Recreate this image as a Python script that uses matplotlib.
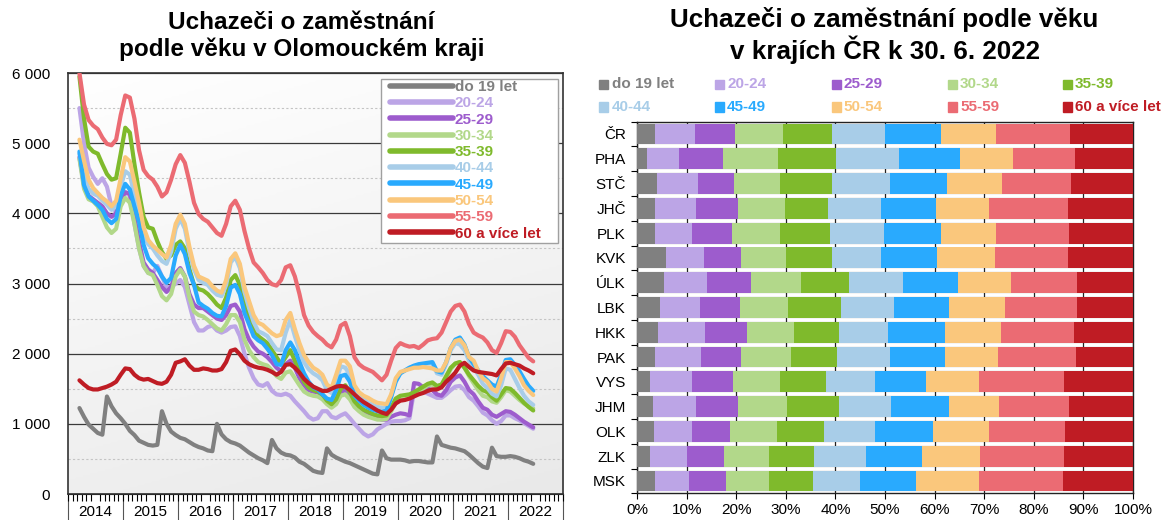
import numpy as np
import pandas as pd
import matplotlib.pyplot as plt
from matplotlib.ticker import FuncFormatter, MultipleLocator, FixedLocator
from matplotlib.patches import Rectangle
from matplotlib.colors import LinearSegmentedColormap

plt.rcParams['font.family'] = ['Liberation Sans', 'DejaVu Sans']

# měsíce: březen 2014 - červen 2022
months = pd.date_range('2014-03-01', '2022-06-01', freq='MS')

do19 = [1225, 1100, 990, 930, 870, 845, 1390, 1250, 1150, 1080,
        1000, 900, 840, 760, 730, 700, 690, 700, 1180, 1000, 890, 840,
        800, 780, 740, 700, 670, 650, 620, 610, 1000, 850, 780, 740,
        720, 690, 640, 590, 550, 510, 480, 440, 770, 650, 590, 560,
        550, 520, 460, 430, 380, 330, 310, 300, 650, 560, 520, 490,
        460, 440, 410, 380, 350, 320, 290, 280, 620, 510, 490, 490,
        490, 480, 460, 470, 470, 460, 450, 450, 820, 700, 680, 660,
        650, 630, 610, 560, 500, 440, 390, 370, 660, 540, 530, 530,
        540, 530, 510, 480, 460, 430]
a20 = [5500, 5000, 4650, 4520, 4420, 4500, 4380, 4100, 4020, 4200,
       4300, 4250, 3850, 3500, 3250, 3150, 3150, 3250, 3100, 2950, 2950, 3000,
       3050, 2950, 2700, 2450, 2330, 2330, 2380, 2400, 2330, 2300, 2330, 2380,
       2390, 2250, 2000, 1800, 1650, 1560, 1540, 1580, 1470, 1420, 1410, 1430,
       1400, 1320, 1250, 1180, 1100, 1060, 1080, 1180, 1180, 1100, 1080, 1120,
       1150, 1080, 1000, 930, 860, 820, 850, 920, 960, 1000, 1030, 1040,
       1040, 1050, 1080, 1470, 1470, 1460, 1430, 1400, 1370, 1370, 1420, 1480,
       1530, 1540, 1480, 1380, 1330, 1250, 1160, 1120, 1050, 1000, 1040, 1120,
       1120, 1080, 1050, 1010, 970, 930]
a25 = [4800, 4400, 4250, 4200, 4150, 4100, 4000, 3950, 4000, 4200,
       4300, 4280, 3950, 3600, 3300, 3200, 3150, 3050, 2950, 2880, 2950, 3150,
       3220, 3100, 2850, 2700, 2650, 2650, 2600, 2550, 2500, 2480, 2550, 2680,
       2700, 2600, 2350, 2200, 2100, 2030, 2000, 1950, 1880, 1800, 1750, 1850,
       1900, 1800, 1650, 1550, 1480, 1460, 1450, 1400, 1300, 1250, 1300, 1450,
       1480, 1400, 1270, 1200, 1150, 1130, 1100, 1080, 1060, 1060, 1100, 1130,
       1150, 1140, 1120, 1580, 1570, 1520, 1500, 1480, 1420, 1400, 1480, 1600,
       1660, 1690, 1600, 1480, 1420, 1320, 1230, 1200, 1130, 1100, 1140, 1180,
       1170, 1130, 1080, 1030, 990, 950]
a30 = [4780, 4350, 4200, 4170, 4100, 3950, 3800, 3720, 3780, 4100,
       4220, 4150, 3850, 3500, 3250, 3150, 3120, 2980, 2820, 2760, 2850, 3100,
       3200, 3100, 2800, 2600, 2550, 2530, 2480, 2420, 2360, 2330, 2420, 2550,
       2550, 2450, 2200, 2050, 1950, 1880, 1850, 1830, 1760, 1680, 1640, 1730,
       1750, 1650, 1550, 1460, 1420, 1400, 1390, 1350, 1280, 1230, 1280, 1400,
       1420, 1350, 1240, 1180, 1130, 1100, 1080, 1060, 1060, 1070, 1180, 1300,
       1340, 1350, 1380, 1420, 1450, 1500, 1550, 1560, 1520, 1540, 1650, 1780,
       1860, 1880, 1800, 1680, 1580, 1480, 1400, 1380, 1320, 1300, 1380, 1480,
       1460, 1400, 1340, 1290, 1250, 1220]
a35 = [5950, 5350, 4950, 4880, 4850, 4700, 4560, 4480, 4500, 4850,
       5220, 5150, 4700, 4300, 3950, 3800, 3780, 3600, 3450, 3350, 3400, 3550,
       3600, 3500, 3200, 2980, 2920, 2900, 2850, 2780, 2700, 2650, 2800, 3050,
       3120, 2980, 2700, 2500, 2350, 2250, 2200, 2150, 2050, 1950, 1850, 1950,
       2050, 1900, 1750, 1600, 1520, 1480, 1460, 1420, 1330, 1280, 1350, 1500,
       1550, 1450, 1320, 1250, 1200, 1170, 1140, 1120, 1110, 1120, 1230, 1360,
       1400, 1410, 1420, 1450, 1490, 1530, 1570, 1590, 1540, 1560, 1680, 1800,
       1860, 1880, 1800, 1700, 1620, 1540, 1480, 1450, 1380, 1330, 1420, 1510,
       1500, 1440, 1370, 1300, 1240, 1190]
a40 = [4850, 4550, 4350, 4280, 4250, 4180, 4120, 4050, 4100, 4380,
       4600, 4550, 4250, 3950, 3700, 3560, 3500, 3400, 3320, 3280, 3450, 3780,
       3920, 3780, 3450, 3200, 3050, 3010, 2980, 2900, 2840, 2820, 2980, 3300,
       3380, 3220, 2880, 2650, 2450, 2320, 2290, 2250, 2150, 2060, 2050, 2300,
       2480, 2250, 2050, 1880, 1780, 1720, 1680, 1620, 1480, 1440, 1600, 1820,
       1800, 1700, 1470, 1400, 1350, 1300, 1270, 1240, 1230, 1220, 1400, 1620,
       1720, 1760, 1800, 1820, 1840, 1850, 1860, 1860, 1720, 1700, 1850, 2050,
       2150, 2130, 2050, 1900, 1800, 1700, 1570, 1510, 1430, 1390, 1550, 1790,
       1770, 1640, 1510, 1400, 1320, 1270]
a45 = [4880, 4400, 4240, 4180, 4120, 4050, 3920, 3860, 3920, 4250,
       4420, 4340, 4100, 3880, 3550, 3360, 3280, 3220, 3100, 3010, 3080, 3400,
       3550, 3420, 3150, 2980, 2730, 2680, 2640, 2580, 2540, 2530, 2680, 2940,
       2980, 2850, 2580, 2420, 2250, 2190, 2150, 2070, 1980, 1850, 1840, 2050,
       2160, 2050, 1880, 1720, 1600, 1520, 1490, 1420, 1360, 1340, 1480, 1680,
       1700, 1600, 1400, 1330, 1270, 1230, 1200, 1180, 1170, 1190, 1380, 1600,
       1720, 1760, 1800, 1830, 1850, 1860, 1870, 1880, 1750, 1730, 1880, 2080,
       2200, 2230, 2130, 1950, 1850, 1760, 1680, 1620, 1560, 1530, 1700, 1910,
       1920, 1840, 1750, 1640, 1540, 1470]
a50 = [5050, 4750, 4480, 4360, 4290, 4220, 4170, 4100, 4180, 4500,
       4800, 4740, 4450, 4150, 3800, 3620, 3540, 3480, 3420, 3370, 3550, 3850,
       3980, 3850, 3520, 3250, 3100, 3070, 3040, 2960, 2900, 2870, 3050, 3350,
       3430, 3280, 2950, 2750, 2550, 2440, 2410, 2350, 2290, 2250, 2270, 2480,
       2580, 2350, 2150, 1980, 1880, 1800, 1760, 1700, 1560, 1510, 1700, 1900,
       1900, 1820, 1550, 1450, 1400, 1370, 1330, 1300, 1290, 1280, 1420, 1650,
       1740, 1760, 1780, 1800, 1800, 1810, 1800, 1790, 1760, 1760, 1880, 2080,
       2180, 2200, 2120, 1950, 1900, 1750, 1650, 1600, 1500, 1460, 1650, 1880,
       1880, 1790, 1680, 1550, 1470, 1410]
a55 = [6000, 5550, 5330, 5250, 5200, 5080, 4990, 4970, 5050, 5400,
       5680, 5650, 5350, 4900, 4620, 4530, 4480, 4380, 4240, 4300, 4480, 4700,
       4830, 4720, 4450, 4150, 3990, 3920, 3880, 3800, 3720, 3680, 3850, 4100,
       4180, 4050, 3750, 3500, 3300, 3230, 3150, 3050, 2990, 2970, 3050, 3230,
       3260, 3100, 2850, 2550, 2400, 2310, 2250, 2200, 2130, 2090, 2200, 2400,
       2440, 2250, 1950, 1850, 1800, 1770, 1740, 1680, 1620, 1700, 1900, 2080,
       2150, 2120, 2100, 2110, 2080, 2130, 2190, 2210, 2220, 2300, 2450, 2600,
       2680, 2700, 2600, 2420, 2300, 2260, 2230, 2160, 2050, 2010, 2150, 2320,
       2310, 2240, 2120, 2030, 1940, 1890]
a60 = [1620, 1560, 1510, 1490, 1490, 1510, 1530, 1560, 1600, 1700,
       1790, 1780, 1700, 1650, 1630, 1640, 1610, 1580, 1570, 1600, 1700, 1870,
       1890, 1920, 1830, 1770, 1770, 1790, 1780, 1760, 1760, 1780, 1880, 2040,
       2060, 1990, 1900, 1850, 1820, 1800, 1790, 1770, 1740, 1700, 1740, 1840,
       1850, 1800, 1730, 1640, 1580, 1530, 1500, 1470, 1470, 1500, 1530, 1540,
       1530, 1480, 1420, 1360, 1310, 1270, 1230, 1190, 1160, 1140, 1200, 1290,
       1330, 1340, 1360, 1390, 1420, 1440, 1470, 1490, 1490, 1520, 1600, 1660,
       1730, 1830, 1870, 1810, 1760, 1740, 1730, 1720, 1710, 1690, 1780, 1860,
       1870, 1850, 1830, 1790, 1760, 1720]

ages = ['do 19 let', '20-24', '25-29', '30-34', '35-39',
        '40-44', '45-49', '50-54', '55-59', '60 a více let']
colors = ['#808080', '#bca5e6', '#9d5ccd', '#b2d88a', '#7fba2c',
          '#a8cde8', '#29aafe', '#fac77c', '#eb6b73', '#bf1c24']
series = [do19, a20, a25, a30, a35, a40, a45, a50, a55, a60]

# podíly v krajích k 30. 6. 2022 (%)
regions = ['ČR', 'PHA', 'STČ', 'JHČ', 'PLK', 'KVK', 'ÚLK', 'LBK',
           'HKK', 'PAK', 'VYS', 'JHM', 'OLK', 'ZLK', 'MSK']
s_do19 = [3.7, 2.1, 4.1, 3.7, 3.7, 5.8, 5.5, 4.6, 4.3, 3.7, 2.6, 3.2, 3.5, 2.6, 3.7]
s_20 = [7.9, 6.4, 8.1, 8.2, 7.3, 7.6, 8.6, 8.1, 9.4, 9.1, 8.5, 8.7, 7.6, 7.4, 6.8]
s_25 = [8.1, 8.8, 7.3, 8.4, 8.1, 7.5, 8.9, 8.0, 8.5, 8.2, 8.2, 8.5, 7.6, 7.5, 7.4]
s_30 = [9.7, 11.1, 9.4, 9.4, 9.7, 9.2, 10.1, 9.8, 9.5, 10.0, 9.6, 9.8, 9.6, 9.2, 8.8]
s_35 = [9.9, 11.8, 10.5, 8.8, 10.1, 9.2, 9.7, 10.7, 9.0, 9.4, 9.1, 10.5, 9.3, 8.9, 8.8]
s_40 = [10.6, 12.6, 11.5, 10.5, 10.8, 9.9, 10.8, 10.7, 9.9, 10.5, 10.0, 10.6, 10.3, 10.5, 9.5]
s_45 = [11.4, 12.3, 11.6, 11.2, 11.5, 11.2, 11.1, 11.0, 11.4, 11.1, 10.3, 11.5, 11.7, 11.4, 11.3]
s_50 = [11.1, 10.7, 11.1, 10.6, 11.2, 11.7, 10.7, 11.3, 11.3, 10.8, 10.7, 10.2, 11.3, 11.6, 12.6]
s_55 = [14.9, 12.4, 13.9, 15.9, 14.7, 14.7, 13.4, 14.5, 14.8, 15.7, 17.1, 14.1, 15.3, 17.0, 16.9]
s_60 = [12.7, 11.8, 12.5, 13.1, 12.9, 13.2, 11.2, 11.3, 11.9, 11.5, 13.9, 12.9, 13.8, 13.9, 14.2]
shares = [s_do19, s_20, s_25, s_30, s_35, s_40, s_45, s_50, s_55, s_60]

fig = plt.figure(figsize=(11.64, 5.2), dpi=100)

# ---------- levý graf ----------
ax1 = fig.add_axes([0.0584, 0.05, 0.4253, 0.8096])
bg = LinearSegmentedColormap.from_list('bg', ['#ffffff', '#e9e9e9'])
gy, gx = np.mgrid[0:1:200j, 0:1:200j]
ax1.imshow(0.75 * gy + 0.25 * gx, extent=[0, 1, 0, 1], transform=ax1.transAxes,
           aspect='auto', cmap=bg, vmin=0, vmax=1, zorder=0, origin='upper')

x = months.year + (months.month - 0.5) / 12
for vals, lab, c in zip(series, ages, colors):
    ax1.plot(x, vals, color=c, lw=3, label=lab, solid_capstyle='round',
             solid_joinstyle='round', zorder=3)

ax1.set_xlim(2014, 2023)
ax1.set_ylim(0, 6000)
ax1.yaxis.set_major_locator(MultipleLocator(1000))
ax1.yaxis.set_minor_locator(MultipleLocator(500))
ax1.yaxis.set_major_formatter(FuncFormatter(lambda v, _: f'{int(v):,}'.replace(',', ' ')))
ax1.grid(which='major', axis='y', color='#3a3a3a', lw=0.9, zorder=1)
ax1.grid(which='minor', axis='y', color='#c4c4c4', lw=0.8, ls=(0, (2, 2)), zorder=1)
ax1.tick_params(axis='y', which='both', length=0, pad=13, labelsize=11)

years = np.arange(2014, 2023)
ax1.xaxis.set_major_locator(FixedLocator(years + 0.5))
ax1.set_xticklabels([str(y) for y in years])
ax1.xaxis.set_minor_locator(FixedLocator(np.arange(2014, 2023.001, 1 / 12)))
ax1.tick_params(axis='x', which='major', length=0, pad=8, labelsize=11)
ax1.tick_params(axis='x', which='minor', length=5, width=0.8)
sec = ax1.secondary_xaxis('bottom')
sec.set_xticks(np.arange(2014, 2024))
sec.tick_params(length=24, width=0.8, labelbottom=False, color='#555555')
for sp in ax1.spines.values():
    sp.set_color('#333333')
    sp.set_linewidth(1.2)

# rámeček legendy (širší než samotné položky, jako v originálu)
ax1.add_patch(Rectangle(((381 - 68) / 495, (494 - 243) / 421), 177 / 495, 164 / 421,
                        transform=ax1.transAxes, facecolor='white',
                        edgecolor='#a0a0a0', lw=1, zorder=4))
leg = ax1.legend(loc='upper left', bbox_to_anchor=((390 - 68) / 495, (494 - 80) / 421),
                 frameon=False, prop={'weight': 'bold', 'size': 11},
                 labelcolor='linecolor', handlelength=4.1, handletextpad=0.15,
                 labelspacing=0.15, borderpad=0.0, borderaxespad=0)
leg.set_zorder(5)
for h in leg.legend_handles:
    h.set_linewidth(4)

fig.text(0.259, 0.931, 'Uchazeči o zaměstnání\npodle věku v Olomouckém kraji',
         ha='center', va='center', fontsize=17.5, fontweight='bold', linespacing=1.15)

# ---------- pravý graf ----------
ax2 = fig.add_axes([0.5473, 0.0512, 0.4261, 0.715])
ax2.set_facecolor('#f3f3f3')
yy = np.arange(len(regions))
tot = np.sum(shares, axis=0)
left = np.zeros(len(regions))
for vals, lab, c in zip(shares, ages, colors):
    w = np.array(vals) / tot * 100
    ax2.barh(yy, w, left=left, height=0.84, color=c, zorder=3, linewidth=0)
    left += w
ax2.hlines(np.arange(-0.5, len(regions)), 0, 100, color='white', lw=1.6, zorder=1)
ax2.vlines(np.arange(0, 101, 10), -0.5, len(regions) - 0.5, color='#222222', lw=0.9, zorder=2)
ax2.set_xlim(0, 100)
ax2.set_ylim(len(regions) - 0.5, -0.5)
ax2.set_xticks(np.arange(0, 101, 10))
ax2.set_xticklabels([f'{v}%' for v in range(0, 101, 10)])
ax2.set_yticks(yy)
ax2.set_yticklabels(regions)
ax2.yaxis.set_minor_locator(FixedLocator(np.arange(-0.5, len(regions), 1)))
ax2.tick_params(axis='y', which='major', length=0, pad=8, labelsize=11)
ax2.tick_params(axis='y', which='minor', length=4, width=0.8)
ax2.tick_params(axis='x', length=4, width=0.8, pad=3, labelsize=11)
for sp in ax2.spines.values():
    sp.set_color('#222222')
    sp.set_linewidth(1)

# legenda nad pravým grafem
col_x = [599.5, 715, 831.5, 948, 1063]
row_y = [84, 107]
for i, (lab, c) in enumerate(zip(ages, colors)):
    px = col_x[i % 5]
    py = row_y[i // 5]
    fig.patches.append(Rectangle((px / 1164, 1 - (py + 4.5) / 520), 9 / 1164, 9 / 520,
                                 transform=fig.transFigure, color=c, figure=fig))
    fig.text((px + 12) / 1164, 1 - py / 520, lab, color=c, fontsize=11,
             fontweight='bold', ha='left', va='center')

fig.text(0.760, 0.931, 'Uchazeči o zaměstnání podle věku\nv krajích ČR k 30. 6. 2022',
         ha='center', va='center', fontsize=18.7, fontweight='bold', linespacing=1.15)

fig.savefig('out.png', dpi=100)
